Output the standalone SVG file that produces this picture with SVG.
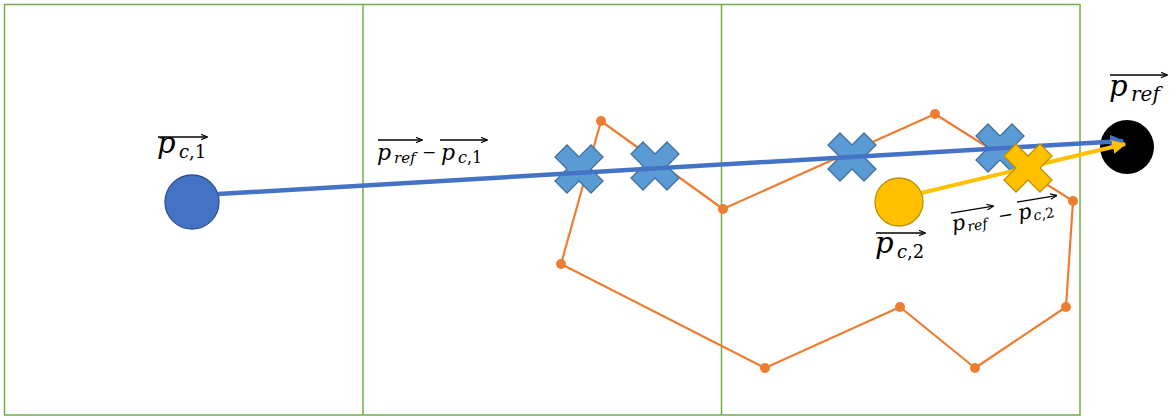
<svg xmlns="http://www.w3.org/2000/svg" width="1176" height="418" viewBox="0 0 1176 418">
<style>
.frame{fill:none;stroke:#70AD47;stroke-width:1.5}
.orange{fill:none;stroke:#ED7D31;stroke-width:2.2;stroke-linejoin:round}
.dot{fill:#ED7D31}
.bx{fill:#5B9BD5;stroke:#41719C;stroke-width:1.3}
.yx{fill:#FFC000;stroke:#BF9000;stroke-width:1.3}
.m{font-family:"DejaVu Serif","Liberation Serif",serif;font-style:italic;fill:#000}
.u{font-style:normal}
.ov{stroke:#000;stroke-width:1.3;fill:none}
</style>
<defs>
<polygon id="xs" points="-12,-24 0,-12 12,-24 24,-12 12,0 24,12 12,24 0,12 -12,24 -24,12 -12,0 -24,-12"/>
<marker id="ab" viewBox="0 0 10 10" refX="9" refY="5" markerWidth="3.2" markerHeight="3.2" orient="auto" markerUnits="strokeWidth"><path d="M0,0 L10,5 L0,10 z" fill="#4472C4"/></marker>
<marker id="ay" viewBox="0 0 10 10" refX="9" refY="5" markerWidth="3.5" markerHeight="3.5" orient="auto" markerUnits="strokeWidth"><path d="M0,0 L10,5 L0,10 z" fill="#FFC000"/></marker>
<marker id="at" viewBox="0 0 10 10" refX="9" refY="5" markerWidth="5.5" markerHeight="5.5" orient="auto" markerUnits="strokeWidth"><path d="M0,1 L10,5 L0,9" fill="none" stroke="#000" stroke-width="1.6"/></marker>
</defs>
<g id="frame">
<rect class="frame" x="4.5" y="4.5" width="1075.5" height="410.5"/>
<line class="frame" x1="363" y1="4.5" x2="363" y2="415"/>
<line class="frame" x1="721.5" y1="4.5" x2="721.5" y2="415"/>
</g>
<g id="path">
<polygon class="orange" points="601,121 723,209 935,114 1073,201 1066,307 975,368 900,307 765,368 561,264"/>
<g class="dot">
<circle cx="601" cy="121" r="5"/><circle cx="723" cy="209" r="5"/><circle cx="935" cy="114" r="5"/><circle cx="1073" cy="201" r="5"/><circle cx="1066" cy="307" r="5"/><circle cx="975" cy="368" r="5"/><circle cx="900" cy="307" r="5"/><circle cx="765" cy="368" r="5"/><circle cx="561" cy="264" r="5"/>
</g>
</g>
<g id="ref"><circle cx="1127" cy="147" r="27" fill="#000"/></g>
<g id="blue-crosses">
<use href="#xs" class="bx" x="579" y="169"/>
<use href="#xs" class="bx" x="655" y="166"/>
<use href="#xs" class="bx" x="852" y="157"/>
<use href="#xs" class="bx" x="1000" y="148"/>
</g>
<g id="connectors">
<line x1="218" y1="194" x2="1123" y2="141" stroke="#4472C4" stroke-width="4.5" marker-end="url(#ab)"/>
<line x1="921" y1="193" x2="1125" y2="144" stroke="#FFC000" stroke-width="4" marker-end="url(#ay)"/>
</g>
<g id="pc1"><circle cx="192" cy="202" r="27" fill="#4472C4" stroke="#2F528F" stroke-width="1.3"/></g>
<g id="pc2"><circle cx="899" cy="202" r="24" fill="#FFC000" stroke="#BF9000" stroke-width="1.3"/></g>
<g id="yellow-cross"><use href="#xs" class="yx" x="1028" y="168"/></g>
<g id="labels">
<line class="ov" x1="158" y1="137" x2="207" y2="137" marker-end="url(#at)"/>
<text class="m" x="157" y="153" font-size="29">p</text>
<text class="m" x="179" y="158" font-size="18">c<tspan class="u">,1</tspan></text>

<line class="ov" x1="378" y1="140" x2="422" y2="140" marker-end="url(#at)"/>
<line class="ov" x1="440" y1="140" x2="487" y2="140" marker-end="url(#at)"/>
<text class="m" x="377" y="160" font-size="22">p</text>
<text class="m" x="394" y="163" font-size="15">ref</text>
<text class="m u" x="422" y="158" font-size="17">−</text>
<text class="m" x="441" y="160" font-size="22">p</text>
<text class="m" x="458" y="163" font-size="16">c<tspan class="u">,1</tspan></text>

<line class="ov" x1="1110" y1="75" x2="1167" y2="75" marker-end="url(#at)"/>
<text class="m" x="1109" y="96" font-size="29">p</text>
<text class="m" x="1131" y="101" font-size="20">ref</text>

<line class="ov" x1="876" y1="233" x2="925" y2="233" marker-end="url(#at)"/>
<text class="m" x="875" y="253" font-size="29">p</text>
<text class="m" x="897" y="258" font-size="18">c<tspan class="u">,2</tspan></text>

<g transform="translate(953,226) rotate(-9.5)">
<line class="ov" x1="0" y1="-13" x2="43" y2="-13" marker-end="url(#at)"/>
<line class="ov" x1="67" y1="-13" x2="107" y2="-13" marker-end="url(#at)"/>
<text class="m" x="-1" y="5" font-size="21">p</text>
<text class="m" x="14" y="8" font-size="14">ref</text>
<text class="m u" x="46" y="4" font-size="18">−</text>
<text class="m" x="66" y="5" font-size="21">p</text>
<text class="m" x="81" y="8" font-size="14">c<tspan class="u">,2</tspan></text>
</g>
</g>
</svg>
